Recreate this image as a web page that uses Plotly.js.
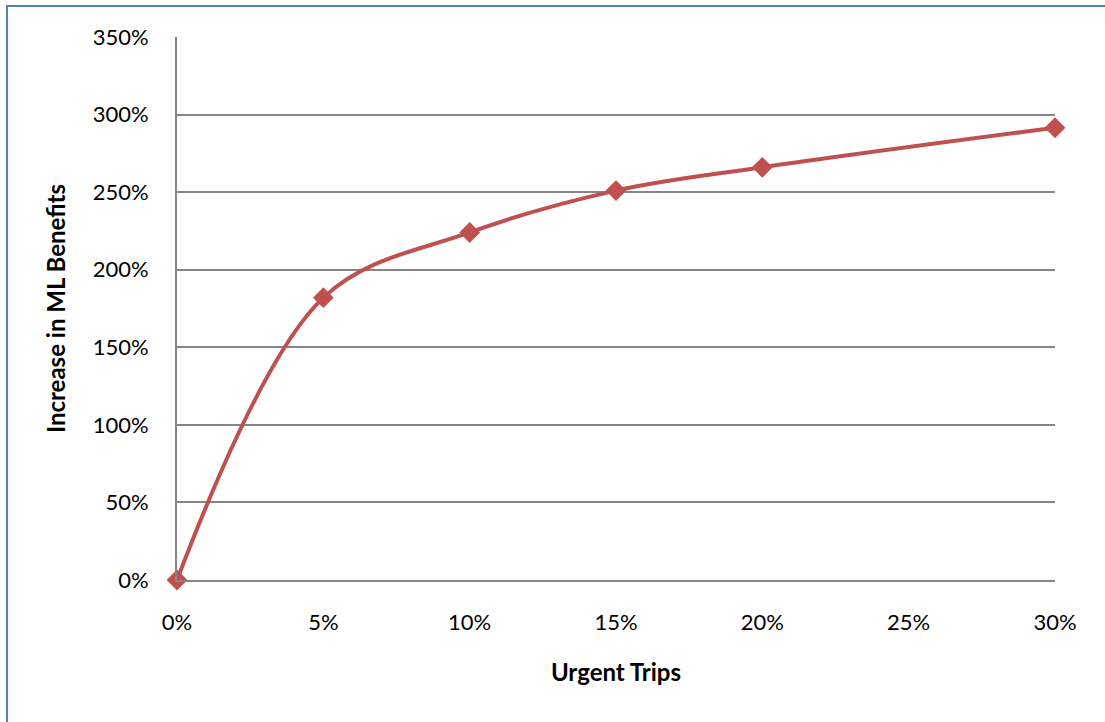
<!DOCTYPE html>
<html>
<head>
<meta charset="utf-8">
<script src="https://cdn.plot.ly/plotly-3.0.1.min.js"></script>
<style>
html,body{margin:0;padding:0;background:#fff;overflow:hidden;}
#frame{position:absolute;left:6px;top:5px;width:1110px;height:730px;border:2px solid #4F81BD;box-sizing:border-box;pointer-events:none;z-index:5;}
#chart{position:absolute;left:0;top:0;width:1105px;height:722px;}
</style>
</head>
<body>
<div id="chart"></div>
<div id="frame"></div>
<script>
const urgentTrips = [0, 0.05, 0.10, 0.15, 0.20, 0.30];
const mlBenefitIncrease = [0, 1.82, 2.24, 2.51, 2.66, 2.915];
const xTickVals = [0, 0.05, 0.10, 0.15, 0.20, 0.25, 0.30];
const yTickVals = [0, 0.5, 1, 1.5, 2, 2.5, 3, 3.5];

const font = "Lato, 'Open Sans', sans-serif";

Plotly.newPlot('chart', [{
  x: urgentTrips,
  y: mlBenefitIncrease,
  type: 'scatter',
  mode: 'lines+markers',
  line: {color: '#C0504D', width: 4, shape: 'spline', smoothing: 1},
  marker: {symbol: 'diamond', size: 16, color: '#C0504D'},
  cliponaxis: false,
  hoverinfo: 'none'
}], {
  width: 1105, height: 722,
  margin: {l: 177, r: 50, t: 37, b: 142},
  paper_bgcolor: '#fff', plot_bgcolor: '#fff',
  showlegend: false,
  font: {family: font, size: 22, color: '#000'},
  xaxis: {
    range: [0, 0.30], tickvals: xTickVals, tickformat: '.0%',
    showgrid: false, zeroline: false,
    showline: true, linecolor: '#868686', linewidth: 2,
    ticks: 'outside', ticklen: 22, tickcolor: 'rgba(0,0,0,0)',
    tickfont: {family: font, size: 22},
    title: {text: '<b>Urgent Trips</b>', font: {family: font, size: 24}, standoff: 30}
  },
  yaxis: {
    range: [0, 3.5], tickvals: yTickVals, tickformat: '.0%',
    showgrid: true, gridcolor: '#868686', gridwidth: 2,
    zeroline: false,
    showline: true, linecolor: '#868686', linewidth: 2,
    ticks: 'outside', ticklen: 22, tickcolor: 'rgba(0,0,0,0)',
    tickfont: {family: font, size: 22},
    title: {text: '<b>Increase in ML Benefits</b>', font: {family: font, size: 24}, standoff: 20}
  }
}, {staticPlot: true});
</script>
</body>
</html>
